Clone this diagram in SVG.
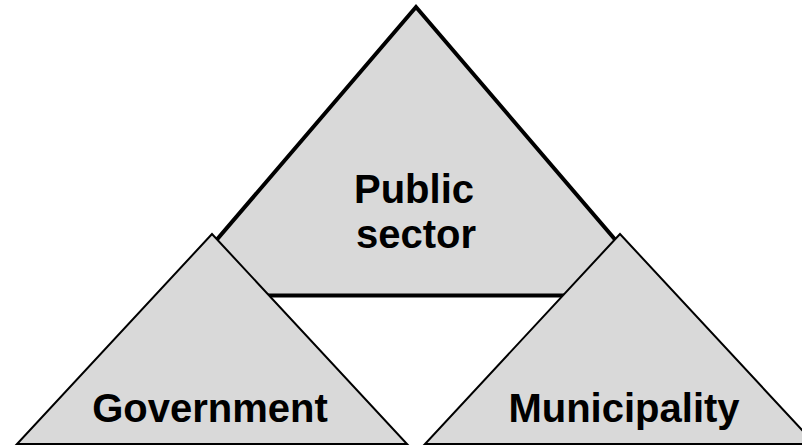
<svg xmlns="http://www.w3.org/2000/svg" width="802" height="446" viewBox="0 0 802 446">
  <style>
    .tri { fill: #d9d9d9; stroke: #000; stroke-linejoin: miter; }
    .big { stroke-width: 4; }
    .small { stroke-width: 2; }
    .lbl { font-family: "Liberation Sans", Arial, sans-serif; font-weight: bold; font-size: 40px; fill: #000; text-anchor: middle; }
  </style>
  <rect width="802" height="446" fill="#fff"/>
  <g id="public-sector">
    <polygon class="tri big" points="416,7 169,295.5 663,295.5"/>
    <text class="lbl" x="414" y="203">Public</text>
    <text class="lbl" x="416" y="248">sector</text>
  </g>
  <g id="government">
    <polygon class="tri small" points="212,234 17,444 407,444"/>
    <text class="lbl" x="210" y="422">Government</text>
  </g>
  <g id="municipality">
    <polygon class="tri small" points="620,234 425,444 815,444"/>
    <text class="lbl" x="624" y="422">Municipality</text>
  </g>
  <g id="connectors"/>
</svg>
